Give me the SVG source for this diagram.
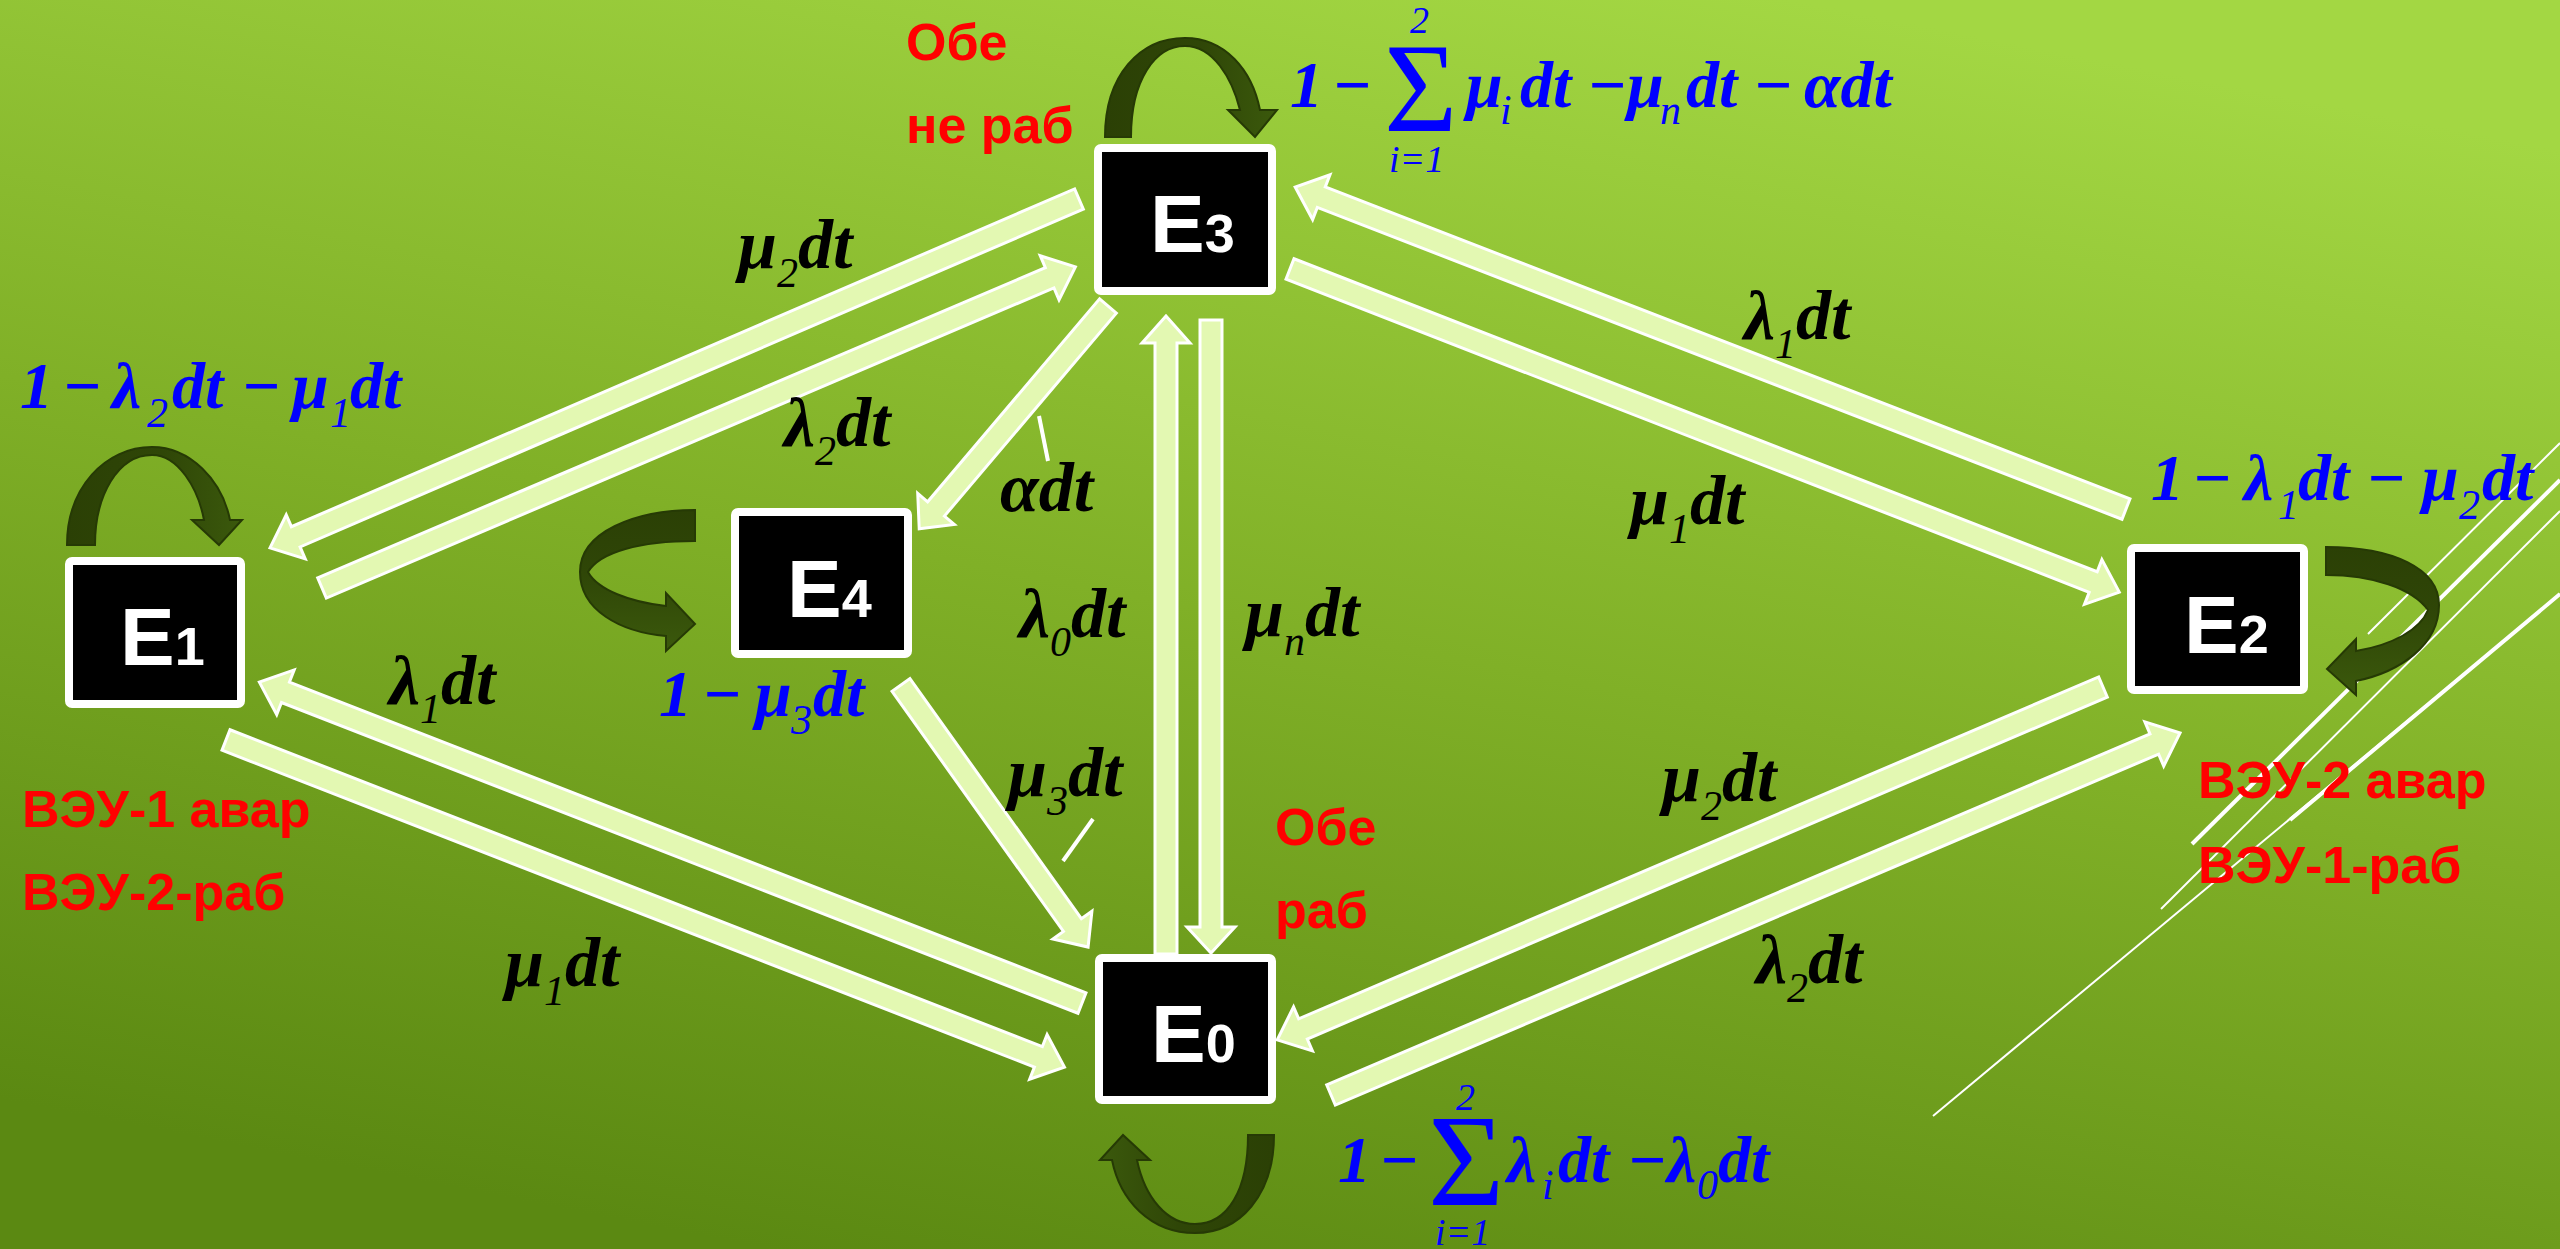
<svg xmlns="http://www.w3.org/2000/svg" width="2560" height="1249" viewBox="0 0 2560 1249">
  <defs>
    <linearGradient id="bg" x1="0.7" y1="0" x2="0.3" y2="1">
      <stop offset="0" stop-color="#a3d743"/>
      <stop offset="0.5" stop-color="#80b027"/>
      <stop offset="1" stop-color="#5b8912"/>
    </linearGradient>
    <!-- two-tone ribbon shading for the self-loop arrows -->
    <linearGradient id="shadeLR" x1="0" y1="0" x2="1" y2="0">
      <stop offset="0" stop-color="#2b4005"/>
      <stop offset="0.55" stop-color="#2f4607"/>
      <stop offset="1" stop-color="#3b590c"/>
    </linearGradient>
    <linearGradient id="shadeRL" x1="1" y1="0" x2="0" y2="0">
      <stop offset="0" stop-color="#2b4005"/>
      <stop offset="0.55" stop-color="#2f4607"/>
      <stop offset="1" stop-color="#3b590c"/>
    </linearGradient>
    <linearGradient id="shadeTB" x1="0" y1="0" x2="0" y2="1">
      <stop offset="0" stop-color="#2b4005"/>
      <stop offset="0.45" stop-color="#2f4607"/>
      <stop offset="1" stop-color="#3b590c"/>
    </linearGradient>
    <style>
      .arrow { fill:#e3f8b2; stroke:#ffffff; stroke-width:3; stroke-linejoin:miter; }
      .box { fill:#000000; stroke:#ffffff; stroke-width:8; }
      .nt { font-family:"Liberation Sans", Arial, sans-serif; font-weight:bold; font-size:82px; fill:#ffffff; }
      .nt .d { font-size:54px; }
      .loop { stroke:#263a05; stroke-width:2; }
      .lbl { font-family:"Liberation Serif", "Times New Roman", serif; font-style:italic; font-weight:bold; font-size:70px; fill:#000000; }
      .blue { fill:#0000ff; font-size:66px; }
      .sub { font-size:42px; font-weight:normal; }
      .sig { font-style:normal; font-weight:normal; }
      .lim { font-size:38px; font-weight:normal; }
      .red { font-family:"Liberation Sans", Arial, sans-serif; font-weight:bold; font-size:52px; fill:#ff0000; }
      .deco { stroke:#ffffff; fill:none; }
      .tick { stroke:#ffffff; stroke-width:4; }
    </style>
  </defs>

  <!-- background -->
  <rect x="0" y="0" width="2560" height="1249" fill="url(#bg)"/>

  <!-- decorative diagonal lines -->
  <g id="decor">
    <line class="deco" stroke-width="2" x1="1933" y1="1116" x2="2560" y2="594"/>
    <line class="deco" stroke-width="4" x1="2290" y1="820" x2="2560" y2="594"/>
    <line class="deco" stroke-width="4" x1="2192" y1="844" x2="2560" y2="480"/>
    <line class="deco" stroke-width="2" x1="2161" y1="909" x2="2560" y2="511"/>
    <line class="deco" stroke-width="2" x1="2368" y1="634" x2="2560" y2="443"/>
  </g>

  <!-- transition arrows -->
  <g id="connectors">
    <!-- E3 -> E1 -->
    <path class="arrow" transform="translate(1079,199) rotate(156.67)" d="M0,-11 H853 V-24 L881,0 L853,24 V11 H0 Z"/>
    <!-- E1 -> E3 -->
    <path class="arrow" transform="translate(322,588) rotate(-23.09)" d="M0,-11 H791 V-24 L819,0 L791,24 V11 H0 Z"/>
    <!-- E3 -> E4 -->
    <path class="arrow" transform="translate(1108,306) rotate(130.28)" d="M0,-11 H266 V-24 L292,0 L266,24 V11 H0 Z"/>
    <!-- E0 -> E3 -->
    <path class="arrow" transform="translate(1166,954) rotate(-90)" d="M0,-11 H611 V-24 L638,0 L611,24 V11 H0 Z"/>
    <!-- E3 -> E0 -->
    <path class="arrow" transform="translate(1211,320) rotate(90)" d="M0,-11 H607 V-24 L633,0 L607,24 V11 H0 Z"/>
    <!-- E1 -> E0 -->
    <path class="arrow" transform="translate(226,740) rotate(21.31)" d="M0,-11 H872 V-24 L900,0 L872,24 V11 H0 Z"/>
    <!-- E0 -> E1 -->
    <path class="arrow" transform="translate(1082,1003) rotate(-158.69)" d="M0,-11 H855 V-24 L883,0 L855,24 V11 H0 Z"/>
    <!-- E4 -> E0 -->
    <path class="arrow" transform="translate(901,685) rotate(54.48)" d="M0,-11 H295 V-24 L322,0 L295,24 V11 H0 Z"/>
    <!-- E2 -> E3 -->
    <path class="arrow" transform="translate(2126,509) rotate(-158.82)" d="M0,-11 H863 V-24 L891,0 L863,24 V11 H0 Z"/>
    <!-- E3 -> E2 -->
    <path class="arrow" transform="translate(1290,269) rotate(21.29)" d="M0,-11 H862 V-24 L890,0 L862,24 V11 H0 Z"/>
    <!-- E2 -> E0 -->
    <path class="arrow" transform="translate(2103,687) rotate(156.86)" d="M0,-11 H870 V-24 L898,0 L870,24 V11 H0 Z"/>
    <!-- E0 -> E2 -->
    <path class="arrow" transform="translate(1331,1095) rotate(-23.09)" d="M0,-11 H895 V-24 L923,0 L895,24 V11 H0 Z"/>

    <!-- leader ticks -->
    <line class="tick" x1="1039" y1="416" x2="1048" y2="461"/>
    <line class="tick" x1="1093" y1="819" x2="1063" y2="861"/>

    <!-- rate labels -->
    <text class="lbl" x="738" y="268">μ<tspan class="sub" dy="19">2</tspan><tspan dy="-19">dt</tspan></text>
    <text class="lbl" x="784" y="446">λ<tspan class="sub" dy="19">2</tspan><tspan dy="-19">dt</tspan></text>
    <text class="lbl" x="1000" y="511">αdt</text>
    <text class="lbl" x="1019" y="637">λ<tspan class="sub" dy="19">0</tspan><tspan dy="-19">dt</tspan></text>
    <text class="lbl" x="1245" y="636">μ<tspan class="sub" dy="19">n</tspan><tspan dy="-19">dt</tspan></text>
    <text class="lbl" x="1008" y="796">μ<tspan class="sub" dy="19">3</tspan><tspan dy="-19">dt</tspan></text>
    <text class="lbl" x="389" y="704">λ<tspan class="sub" dy="19">1</tspan><tspan dy="-19">dt</tspan></text>
    <text class="lbl" x="505" y="986">μ<tspan class="sub" dy="19">1</tspan><tspan dy="-19">dt</tspan></text>
    <text class="lbl" x="1744" y="339">λ<tspan class="sub" dy="19">1</tspan><tspan dy="-19">dt</tspan></text>
    <text class="lbl" x="1630" y="524">μ<tspan class="sub" dy="19">1</tspan><tspan dy="-19">dt</tspan></text>
    <text class="lbl" x="1662" y="801">μ<tspan class="sub" dy="19">2</tspan><tspan dy="-19">dt</tspan></text>
    <text class="lbl" x="1756" y="983">λ<tspan class="sub" dy="19">2</tspan><tspan dy="-19">dt</tspan></text>
  </g>

  <!-- state E3 -->
  <g id="node-E3">
    <path class="loop" fill="url(#shadeLR)" d="M1105,137 C1105,75 1140,38 1185,38 C1225,38 1252,70 1260,110 L1277,110 L1255,137 L1228,110 L1240,110 C1232,78 1213,46 1185,46 C1155,46 1131,80 1131,137 Z"/>
    <rect class="box" x="1098" y="148" width="174" height="143" rx="3"/>
    <text class="nt" x="1150" y="252">E<tspan class="d">3</tspan></text>
    <text class="red" x="906" y="60">Обе</text>
    <text class="red" x="906" y="143">не раб</text>
    <text class="lbl blue"><tspan x="1290" y="107">1</tspan><tspan x="1332" y="107">−</tspan><tspan class="sig" x="1384" y="131" font-size="126">Σ</tspan><tspan class="lim" x="1410" y="33">2</tspan><tspan class="lim" x="1389" y="172">i=1</tspan><tspan x="1466" y="107">μ</tspan><tspan class="sub" x="1500" y="124">i</tspan><tspan x="1520" y="107">dt</tspan><tspan x="1587" y="107">−μ</tspan><tspan class="sub" x="1660" y="124">n</tspan><tspan x="1686" y="107">dt</tspan><tspan x="1753" y="107">−</tspan><tspan x="1804" y="107">αdt</tspan></text>
  </g>

  <!-- state E1 -->
  <g id="node-E1">
    <path class="loop" fill="url(#shadeLR)" d="M67,545 C67,488 105,447 152,447 C190,447 222,480 230,520 L242,520 L219,545 L192,520 L204,520 C198,488 178,455 152,455 C118,455 95,495 95,545 Z"/>
    <rect class="box" x="69" y="561" width="172" height="143" rx="3"/>
    <text class="nt" x="120" y="665">E<tspan class="d">1</tspan></text>
    <text class="red" x="22" y="827">ВЭУ-1 авар</text>
    <text class="red" x="22" y="910">ВЭУ-2-раб</text>
    <text class="lbl blue"><tspan x="20" y="408">1</tspan><tspan x="62" y="408">−</tspan><tspan x="112" y="408">λ</tspan><tspan class="sub" x="147" y="427">2</tspan><tspan x="172" y="408">dt</tspan><tspan x="241" y="408">−</tspan><tspan x="292" y="408">μ</tspan><tspan class="sub" x="330" y="427">1</tspan><tspan x="350" y="408">dt</tspan></text>
  </g>

  <!-- state E4 -->
  <g id="node-E4">
    <path class="loop" fill="url(#shadeTB)" d="M695,510 C635,510 580,532 580,572 C580,610 620,632 666,636 L666,651 L695,624 L666,593 L666,606 C630,602 598,590 588,572 C600,552 640,541 695,541 Z"/>
    <rect class="box" x="735" y="512" width="173" height="142" rx="3"/>
    <text class="nt" x="787" y="617">E<tspan class="d">4</tspan></text>
    <text class="lbl blue"><tspan x="659" y="716">1</tspan><tspan x="702" y="716">−</tspan><tspan x="755" y="716">μ</tspan><tspan class="sub" x="791" y="734">3</tspan><tspan x="813" y="716">dt</tspan></text>
  </g>

  <!-- state E2 -->
  <g id="node-E2">
    <path class="loop" fill="url(#shadeTB)" d="M2326,547 C2392,547 2439,568 2439,605 C2439,645 2400,672 2356,681 L2356,695 L2327,669 L2356,639 L2356,651 C2392,645 2420,630 2428,610 C2412,588 2372,575 2326,575 Z"/>
    <rect class="box" x="2131" y="548" width="173" height="142" rx="3"/>
    <text class="nt" x="2184" y="653">E<tspan class="d">2</tspan></text>
    <text class="red" x="2198" y="798">ВЭУ-2 авар</text>
    <text class="red" x="2198" y="883">ВЭУ-1-раб</text>
    <text class="lbl blue"><tspan x="2151" y="500">1</tspan><tspan x="2192" y="500">−</tspan><tspan x="2244" y="500">λ</tspan><tspan class="sub" x="2278" y="519">1</tspan><tspan x="2298" y="500">dt</tspan><tspan x="2366" y="500">−</tspan><tspan x="2422" y="500">μ</tspan><tspan class="sub" x="2459" y="519">2</tspan><tspan x="2482" y="500">dt</tspan></text>
  </g>

  <!-- state E0 -->
  <g id="node-E0">
    <path class="loop" fill="url(#shadeRL)" d="M1274,1135 C1274,1195 1240,1233 1195,1233 C1150,1233 1120,1200 1112,1160 L1100,1160 L1123,1135 L1150,1160 L1137,1160 C1145,1198 1167,1224 1195,1224 C1228,1224 1248,1190 1248,1135 Z"/>
    <rect class="box" x="1099" y="958" width="173" height="142" rx="3"/>
    <text class="nt" x="1151" y="1062">E<tspan class="d">0</tspan></text>
    <text class="red" x="1275" y="845">Обе</text>
    <text class="red" x="1275" y="928">раб</text>
    <text class="lbl blue"><tspan x="1338" y="1182">1</tspan><tspan x="1379" y="1182">−</tspan><tspan class="sig" x="1428" y="1205" font-size="131">Σ</tspan><tspan class="lim" x="1456" y="1110">2</tspan><tspan class="lim" x="1435" y="1245">i=1</tspan><tspan x="1507" y="1182">λ</tspan><tspan class="sub" x="1542" y="1199">i</tspan><tspan x="1558" y="1182">dt</tspan><tspan x="1627" y="1182">−λ</tspan><tspan class="sub" x="1697" y="1199">0</tspan><tspan x="1718" y="1182">dt</tspan></text>
  </g>
</svg>
